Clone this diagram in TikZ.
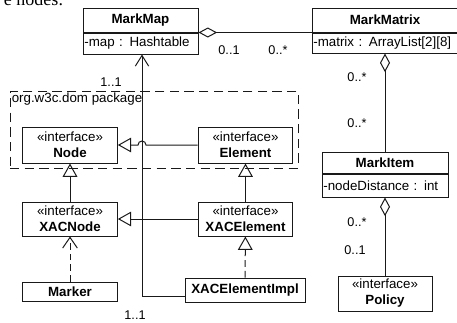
\documentclass[tikz,border=0pt]{standalone}
\usepackage{fontspec}
\setmainfont{Liberation Sans}
\newfontfamily\bodyserif{Liberation Serif}
\usetikzlibrary{arrows.meta,calc,positioning}

\begin{document}
\begin{tikzpicture}[x=0.75pt,y=-0.75pt,
  font=\fontsize{10}{12}\selectfont,
  umlline/.style={line width=0.75pt, draw=black!90},
  cls/.style={draw=black!90, line width=0.75pt, inner sep=0pt, align=center, font=\fontsize{10}{12}\selectfont\bfseries},
  attr/.style={draw=black!90, line width=0.75pt, inner xsep=1pt, inner ysep=0pt, align=left, text width=#1},
  mult/.style={inner sep=0pt, font=\fontsize{9.5}{11}\selectfont},
  gen/.style={umlline, -{Triangle[open, length=10pt, width=11pt]}},
  real/.style={gen, dash pattern=on 5pt off 3pt},
  dep/.style={umlline, dash pattern=on 5pt off 3pt, -{Straight Barb[length=8pt, width=11pt]}},
  nav/.style={umlline, -{Straight Barb[length=8pt, width=10pt]}},
  agg/.style={umlline, {Diamond[open, length=14pt, width=7.5pt]}-},
  pkg/.style={draw=black!90, line width=0.75pt, dash pattern=on 7pt off 4pt}]
\useasboundingbox (0,0) rectangle (457,322);
\clip (0,0) rectangle (457,322);

\node[anchor=base east, font=\bodyserif\fontsize{13.5}{15}\selectfont] (caption) at (68,5) {e nodes:};

\node[pkg, minimum width=216pt, minimum height=57.75pt] (package) at (154,129.5) {};
\node[anchor=north west, inner sep=1.5pt] (pkglabel) at (package.north west) {org.w3c.dom package};

\node[cls, minimum width=86.25pt, minimum height=18pt] (markmap) at (140.5,20) {MarkMap};
\node[attr=84.25pt, minimum height=15.75pt, below=0pt of markmap] (mapattr) {-map : Hashtable};
\node[cls, minimum width=109.5pt, minimum height=18pt] (markmatrix) at (385,20) {MarkMatrix};
\node[attr=107.5pt, minimum height=15pt, below=0pt of markmatrix] (matrixattr) {-matrix : ArrayList[2][8]};
\node[cls, minimum width=94.5pt, minimum height=15.75pt] (markitem) at (385,162.5) {MarkItem};
\node[attr=92.5pt, minimum height=17.25pt, below=0pt of markitem] (itemattr) {-nodeDistance : int};

\node[cls, minimum width=71pt, minimum height=27pt] (node) at (70,145) {\textmd{«interface»}\\Node};
\node[cls, minimum width=71pt, minimum height=27pt] (element) at (245.5,145) {\textmd{«interface»}\\Element};
\node[cls, minimum width=71pt, minimum height=25.5pt] (xacnode) at (70,219) {\textmd{«interface»}\\XACNode};
\node[cls, minimum width=71pt, minimum height=25.5pt] (xacelement) at (245.5,219) {\textmd{«interface»}\\XACElement};
\node[cls, minimum width=71pt, minimum height=14.25pt] (marker) at (70,291.5) {Marker};
\node[cls, minimum width=90pt, minimum height=18pt] (impl) at (245,290) {XACElementImpl};
\node[cls, minimum width=70.5pt, minimum height=26.25pt] (policy) at (385,293.5) {\textmd{«interface»}\\Policy};

\coordinate (corner) at (142,296);
\draw[nav] ($(impl.west)+(0,6)$) -- (corner) -- (mapattr.south -| corner);
\draw[gen] (element.west) -- ($(corner |- element.west)+(4,0)$) arc[start angle=0, end angle=-180, radius=4] -- (node.east);
\draw[gen] (xacnode) -- (node);
\draw[gen] (xacelement) -- (xacnode);
\draw[gen] (xacelement) -- (element);
\draw[real] (impl) -- (xacelement);
\draw[dep] (marker) -- (xacnode);

\draw[agg] (mapattr.north east) -- (matrixattr.north west);
\draw[agg] (matrixattr.south) -- (markitem.north);
\draw[agg] (itemattr.south) -- (policy.north);

\node[mult] (m1) at (111,82) {1..1};
\node[mult] (m2) at (229,50) {0..1};
\node[mult] (m3) at (278,50) {0..*};
\node[mult] (m4) at (357,77) {0..*};
\node[mult] (m5) at (357,123) {0..*};
\node[mult] (m6) at (357,222) {0..*};
\node[mult] (m7) at (355,250) {0..1};
\node[mult] (m8) at (135,315) {1..1};
\end{tikzpicture}
\end{document}
